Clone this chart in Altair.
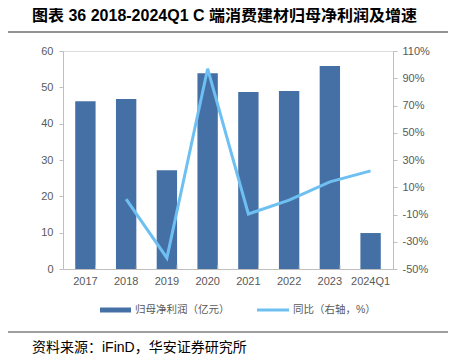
import altair as alt
import pandas as pd

years = ["2017", "2018", "2019", "2020", "2021", "2022", "2023", "2024Q1"]
profit = [46.2, 46.8, 27.2, 53.9, 48.7, 49.0, 55.9, 9.9]
growth = [None, 1.3, -41.9, 97.0, -9.6, 0.6, 14.0, 22.0]

title_text = "图表 36 2018-2024Q1 C 端消费建材归母净利润及增速"
source_text = "资料来源：iFinD，华安证券研究所"
legend_bar = "归母净利润（亿元）"
legend_line = "同比（右轴，%）"

BAR_C = "#4570A6"
LINE_C = "#6EC0F2"
GREY = "#595959"
AX = "#BFBFBF"
FONT = "Liberation Sans, Noto Sans CJK SC"

df = pd.DataFrame({"year": years, "profit": profit, "growth": growth})
one = pd.DataFrame({"a": [0]})

xenc = alt.X("year:N", sort=years, title=None,
             scale=alt.Scale(paddingInner=0.5, paddingOuter=0.3),
             axis=alt.Axis(labelAngle=0, labelColor=GREY, labelFontSize=11, labelFont=FONT,
                           domainColor=AX, ticks=False, labelPadding=6))

bars = alt.Chart(df).mark_bar(color=BAR_C).encode(
    x=xenc,
    y=alt.Y("profit:Q", title=None,
            scale=alt.Scale(domain=[0, 60], nice=False),
            axis=alt.Axis(values=[0, 10, 20, 30, 40, 50, 60], grid=False, labelColor=GREY,
                          labelFontSize=11, labelFont=FONT, domainColor=AX, tickColor=AX,
                          tickSize=4, labelPadding=6)),
)

xticks = alt.Chart(df[df["year"] != years[0]]).mark_rule(color=AX, strokeWidth=1).encode(
    x=alt.X("year:N", sort=years),
    xOffset=alt.value(-20.37),
    y=alt.value(218), y2=alt.value(214),
)

line = alt.Chart(df).transform_filter("datum.growth != null").mark_line(
    color=LINE_C, strokeWidth=3).encode(
    x=alt.X("year:N", sort=years),
    y=alt.Y("growth:Q", title=None,
            scale=alt.Scale(domain=[-50, 110], nice=False),
            axis=alt.Axis(orient="right", values=list(range(-50, 111, 20)), grid=False,
                          labelExpr="datum.value + '%'", labelColor=GREY, labelFontSize=11,
                          labelFont=FONT, domainColor=AX, tickColor=AX, tickSize=4,
                          labelPadding=5)),
)

def txt(s, x, y, size, color="#000000", weight="normal", font=FONT):
    return alt.Chart(one).mark_text(align="left", baseline="middle", fontSize=size,
                                    color=color, fontWeight=weight, font=font).encode(
        x=alt.value(x), y=alt.value(y), text=alt.value(s))

def hline(x1, x2, y, color, width):
    return alt.Chart(one).mark_rule(color=color, strokeWidth=width).encode(
        x=alt.value(x1), x2=alt.value(x2), y=alt.value(y))

title = txt(title_text, -31, -35, 16, weight="bold")
top_line = hline(-60, 400, -19, "#6F6F6F", 1.5)
bottom_line = hline(-60, 400, 281, "#7F7F7F", 1.5)
source = txt(source_text, -31, 297, 14)
leg_bar = hline(37, 68, 259, BAR_C, 5)
leg_bar_t = txt(legend_bar, 72, 259, 10.5, color=GREY)
leg_line = hline(194, 226, 259, LINE_C, 3)
leg_line_t = txt(legend_line, 230, 259, 10.5, color=GREY)

chart = alt.layer(
    alt.layer(bars, xticks, line).resolve_scale(y="independent"),
    title, top_line, bottom_line, source, leg_bar, leg_bar_t, leg_line, leg_line_t,
).properties(
    width=330, height=218,
    autosize=alt.AutoSizeParams(type="none"),
    padding={"left": 55, "top": 43, "right": 55, "bottom": 87},
).configure_view(stroke=None).configure(background="white")

chart.save("out.html", embed_options={"renderer": "svg", "actions": False})
